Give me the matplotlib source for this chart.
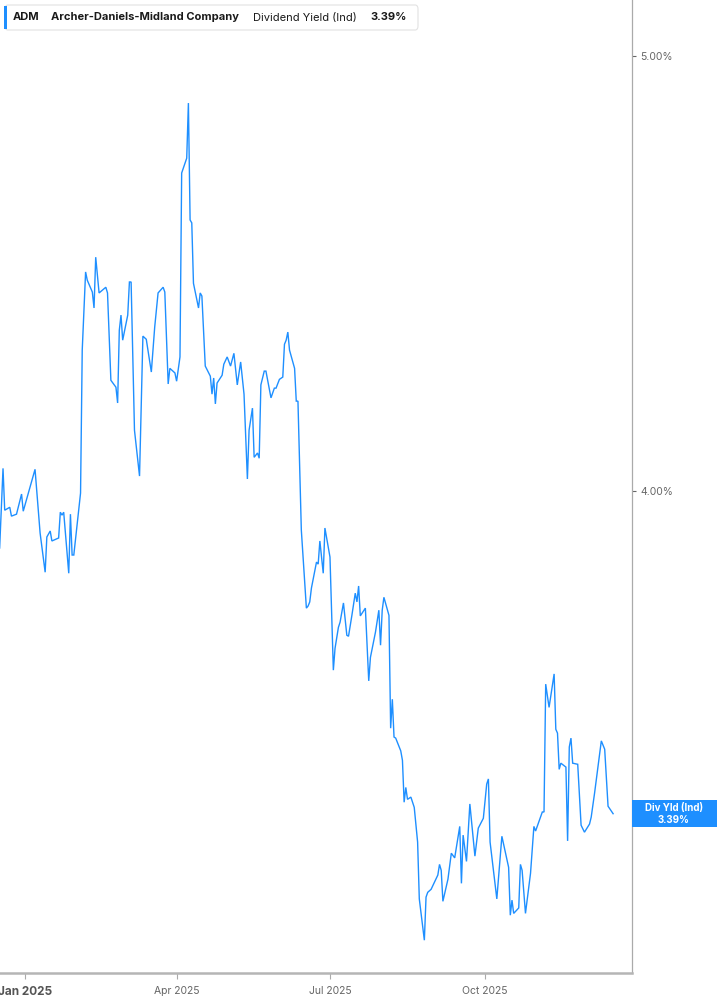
import matplotlib
matplotlib.use("Agg")
import matplotlib.pyplot as plt
import matplotlib.dates as mdates
from matplotlib.patches import FancyBboxPatch, Rectangle
from matplotlib.ticker import FixedLocator, NullLocator, NullFormatter
import pandas as pd

# ADM dividend yield (indicated), vertices
dates = [
    "2024-12-17", "2024-12-19", "2024-12-20", "2024-12-23", "2024-12-24", "2024-12-27",
    "2024-12-30", "2024-12-31", "2025-01-07", "2025-01-10", "2025-01-13", "2025-01-14",
    "2025-01-16", "2025-01-17", "2025-01-21", "2025-01-22", "2025-01-23", "2025-01-24",
    "2025-01-27", "2025-01-28", "2025-01-29", "2025-01-30", "2025-02-03", "2025-02-04",
    "2025-02-06", "2025-02-07", "2025-02-10", "2025-02-11", "2025-02-12", "2025-02-14",
    "2025-02-18", "2025-02-19", "2025-02-21", "2025-02-24", "2025-02-25", "2025-02-26",
    "2025-02-27", "2025-02-28", "2025-03-03", "2025-03-04", "2025-03-05", "2025-03-07",
    "2025-03-10", "2025-03-12", "2025-03-14", "2025-03-17", "2025-03-19", "2025-03-21",
    "2025-03-24", "2025-03-25", "2025-03-27", "2025-03-28", "2025-03-31", "2025-04-01",
    "2025-04-03", "2025-04-04", "2025-04-07", "2025-04-08", "2025-04-09", "2025-04-10",
    "2025-04-11", "2025-04-14", "2025-04-15", "2025-04-16", "2025-04-18", "2025-04-21",
    "2025-04-22", "2025-04-23", "2025-04-24", "2025-04-25", "2025-04-28", "2025-04-29",
    "2025-05-01", "2025-05-03", "2025-05-05", "2025-05-07", "2025-05-09", "2025-05-11",
    "2025-05-13", "2025-05-14", "2025-05-16", "2025-05-17", "2025-05-19", "2025-05-20",
    "2025-05-21", "2025-05-23", "2025-05-24", "2025-05-27", "2025-05-29", "2025-05-30",
    "2025-06-01", "2025-06-03", "2025-06-04", "2025-06-05", "2025-06-06", "2025-06-07",
    "2025-06-10", "2025-06-11", "2025-06-12", "2025-06-14", "2025-06-16", "2025-06-17",
    "2025-06-18", "2025-06-19", "2025-06-20", "2025-06-23", "2025-06-24", "2025-06-25",
    "2025-06-27", "2025-06-28", "2025-07-01", "2025-07-03", "2025-07-04", "2025-07-06",
    "2025-07-07", "2025-07-09", "2025-07-11", "2025-07-12", "2025-07-14", "2025-07-16",
    "2025-07-17", "2025-07-18", "2025-07-19", "2025-07-22", "2025-07-24", "2025-07-25",
    "2025-07-28", "2025-07-30", "2025-07-31", "2025-08-01", "2025-08-02", "2025-08-05",
    "2025-08-06", "2025-08-07", "2025-08-08", "2025-08-09", "2025-08-12", "2025-08-13",
    "2025-08-14", "2025-08-15", "2025-08-16", "2025-08-18", "2025-08-20", "2025-08-22",
    "2025-08-23", "2025-08-26", "2025-08-27", "2025-08-28", "2025-08-30", "2025-09-03",
    "2025-09-04", "2025-09-05", "2025-09-06", "2025-09-09", "2025-09-11", "2025-09-13",
    "2025-09-16", "2025-09-17", "2025-09-18", "2025-09-20", "2025-09-22", "2025-09-25",
    "2025-09-27", "2025-09-30", "2025-10-02", "2025-10-03", "2025-10-04", "2025-10-08",
    "2025-10-11", "2025-10-15", "2025-10-16", "2025-10-17", "2025-10-18", "2025-10-21",
    "2025-10-22", "2025-10-23", "2025-10-25", "2025-10-28", "2025-10-30", "2025-10-31",
    "2025-11-04", "2025-11-05", "2025-11-06", "2025-11-08", "2025-11-11", "2025-11-12",
    "2025-11-13", "2025-11-14", "2025-11-15", "2025-11-18", "2025-11-19", "2025-11-20",
    "2025-11-21", "2025-11-22", "2025-11-25", "2025-11-27", "2025-11-29", "2025-12-02",
    "2025-12-03", "2025-12-05", "2025-12-09", "2025-12-11", "2025-12-13", "2025-12-16",
]
yields = [
    3.885, 4.047, 3.961, 3.967, 3.949, 3.953, 3.994, 3.959, 4.045, 3.915, 3.837, 3.907,
    3.919, 3.899, 3.905, 3.957, 3.951, 3.957, 3.835, 3.953, 3.871, 3.871, 3.996, 4.300,
    4.476, 4.457, 4.430, 4.394, 4.510, 4.428, 4.441, 4.428, 4.234, 4.219, 4.185, 4.344,
    4.378, 4.322, 4.378, 4.453, 4.453, 4.127, 4.031, 4.331, 4.324, 4.252, 4.351, 4.428,
    4.441, 4.430, 4.226, 4.260, 4.250, 4.232, 4.285, 4.709, 4.745, 4.881, 4.597, 4.590,
    4.450, 4.394, 4.428, 4.421, 4.265, 4.243, 4.204, 4.239, 4.183, 4.228, 4.245, 4.269,
    4.285, 4.265, 4.293, 4.224, 4.274, 4.204, 4.025, 4.127, 4.174, 4.070, 4.079, 4.068,
    4.224, 4.254, 4.254, 4.196, 4.217, 4.217, 4.236, 4.241, 4.313, 4.322, 4.340, 4.300,
    4.260, 4.189, 4.189, 3.921, 3.816, 3.767, 3.771, 3.779, 3.806, 3.857, 3.853, 3.899,
    3.835, 3.925, 3.867, 3.649, 3.690, 3.730, 3.740, 3.777, 3.715, 3.713, 3.753, 3.796,
    3.779, 3.810, 3.752, 3.767, 3.629, 3.673, 3.721, 3.763, 3.696, 3.763, 3.788, 3.753,
    3.542, 3.595, 3.526, 3.524, 3.501, 3.484, 3.410, 3.436, 3.415, 3.419, 3.401, 3.341,
    3.245, 3.177, 3.248, 3.256, 3.261, 3.285, 3.303, 3.293, 3.241, 3.278, 3.322, 3.314,
    3.368, 3.271, 3.353, 3.308, 3.407, 3.317, 3.365, 3.382, 3.442, 3.451, 3.341, 3.245,
    3.351, 3.298, 3.218, 3.243, 3.221, 3.230, 3.303, 3.293, 3.221, 3.288, 3.368, 3.360,
    3.393, 3.393, 3.623, 3.580, 3.642, 3.540, 3.533, 3.468, 3.479, 3.472, 3.343, 3.508,
    3.524, 3.479, 3.477, 3.370, 3.358, 3.372, 3.384, 3.426, 3.519, 3.504, 3.403, 3.39,
]

ytick_vals = [4.0, 5.0]
xtick_dates = ["2025-01-01", "2025-04-01", "2025-07-01", "2025-10-01"]
xtick_labels = ["Jan 2025", "Apr 2025", "Jul 2025", "Oct 2025"]

BLUE = "#1e8fff"
W, H = 717, 1005

plt.rcParams["font.family"] = ["Inter", "DejaVu Sans"]

fig = plt.figure(figsize=(W / 100, H / 100), dpi=100)
ax = fig.add_axes([0, 32 / H, 632 / W, 973 / H])

x = pd.to_datetime(dates)
ax.plot(x, yields, color=BLUE, lw=1.0, solid_joinstyle="miter")

ax.set_yscale("log")
ax.set_ylim(3.124, 5.146)
ax.set_xlim(pd.Timestamp("2024-12-17 05:00"), pd.Timestamp("2025-12-27 05:00"))

ax.yaxis.tick_right()
ax.yaxis.set_major_locator(FixedLocator(ytick_vals))
ax.yaxis.set_minor_locator(NullLocator())
ax.yaxis.set_minor_formatter(NullFormatter())
ax.set_yticklabels([f"{v:.2f}%" for v in ytick_vals])
ax.tick_params(axis="y", length=3, width=0.8, color="#666666", pad=3,
               labelsize=7.5, labelcolor="#666666")

ax.set_xticks(pd.to_datetime(xtick_dates))
ax.set_xticklabels(xtick_labels)
ax.tick_params(axis="x", length=4, width=0.8, color="#aaaaaa", pad=5,
               labelsize=7.5, labelcolor="#666666")
first = ax.get_xticklabels()[0]
first.set_fontweight("bold")
first.set_fontsize(8.5)
first.set_color("#555555")

for s in ["left", "top"]:
    ax.spines[s].set_visible(False)
ax.spines["right"].set_color("#aaaaaa")
ax.spines["right"].set_linewidth(0.9)
ax.spines["bottom"].set_color("#b5b5b5")
ax.spines["bottom"].set_linewidth(1.8)

# header legend box
def px(xp, yp):
    return xp / W, 1 - yp / H

fig.patches.append(FancyBboxPatch(px(5, 30), 413 / W, 25 / H,
                                  boxstyle="round,pad=0,rounding_size=0.004",
                                  transform=fig.transFigure, fc="white",
                                  ec="#e2e2e2", lw=0.8))
fig.patches.append(Rectangle(px(4, 29), 3 / W, 23 / H, transform=fig.transFigure,
                             fc=BLUE, ec="none"))
hy = 1 - 17.5 / H
fig.text(13 / W, hy, "ADM", fontsize=8, fontweight="bold", color="#1a1a1a", va="center")
fig.text(51 / W, hy, "Archer-Daniels-Midland Company", fontsize=8, fontweight="bold",
         color="#1a1a1a", va="center")
fig.text(253 / W, hy, "Dividend Yield (Ind)", fontsize=8, color="#1a1a1a", va="center")
fig.text(370 / W, hy, f"{yields[-1]:.2f}%", fontsize=8, fontweight="bold",
         color="#1a1a1a", va="center")

# last value tag on the right axis
last_y = ax.transData.transform((mdates.date2num(x[-1]), yields[-1]))[1]
tag_h = 27
fig.patches.append(Rectangle(((632) / W, (last_y - tag_h / 2) / H), 85 / W, tag_h / H,
                             transform=fig.transFigure, fc=BLUE, ec="none"))
fig.text(674 / W, (last_y + 6) / H, "Div Yld (Ind)", fontsize=7, fontweight="bold",
         color="white", ha="center", va="center")
fig.text(674 / W, (last_y - 6) / H, f"{yields[-1]:.2f}%", fontsize=7, fontweight="bold",
         color="white", ha="center", va="center")

fig.savefig("out.png", dpi=100)
